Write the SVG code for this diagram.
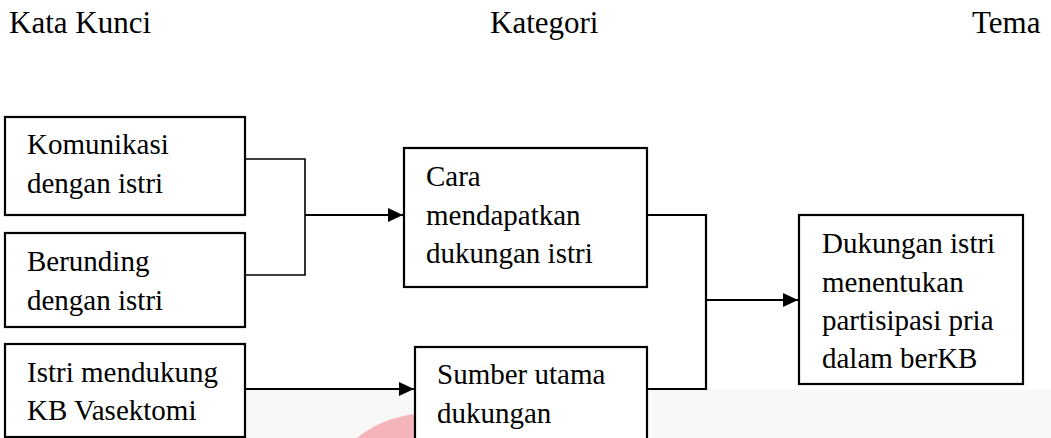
<svg xmlns="http://www.w3.org/2000/svg" width="1051" height="438" viewBox="0 0 1051 438">
<style>
.t{font-family:"Liberation Serif","Times New Roman",serif;font-size:29px;fill:#000}
.h{font-family:"Liberation Serif","Times New Roman",serif;font-size:31px;fill:#000}
.box{fill:#fff;stroke:#000;stroke-width:2.2}
.ln{fill:none;stroke:#000;stroke-width:1.6}
.ar{fill:none;stroke:#000;stroke-width:2.2}
</style>
<defs>
<marker id="ah" markerWidth="16" markerHeight="14" refX="15" refY="7" orient="auto" markerUnits="userSpaceOnUse">
<path d="M0,0 L15,7 L0,14 Z" fill="#000"/>
</marker>
</defs>
<rect width="1051" height="438" fill="#fff"/>
<rect x="245" y="389" width="806" height="49" fill="#f8f8f8"/>
<path d="M357,438 Q380,419 414,414 L414,438 Z" fill="#f4b4b9"/>
<g id="titles">
<text class="h" x="9" y="33">Kata Kunci</text>
<text class="h" x="490" y="33">Kategori</text>
<text class="h" x="972" y="33">Tema</text>
</g>
<g id="connectors">
<polyline class="ln" points="245,159 305,159 305,275 245,275"/>
<line class="ar" x1="305" y1="215" x2="403" y2="215" marker-end="url(#ah)"/>
<line class="ar" x1="245" y1="389" x2="414" y2="389" marker-end="url(#ah)"/>
<polyline class="ar" points="647,215 706,215 706,389 647,389"/>
<line class="ar" x1="706" y1="300" x2="798" y2="300" marker-end="url(#ah)"/>
</g>
<g id="n1">
<rect class="box" x="5" y="117" width="240" height="98"/>
<text class="t" x="27" y="154">Komunikasi</text>
<text class="t" x="27" y="193">dengan istri</text>
</g>
<g id="n2">
<rect class="box" x="5" y="233" width="240" height="94"/>
<text class="t" x="27" y="271">Berunding</text>
<text class="t" x="27" y="310">dengan istri</text>
</g>
<g id="n3">
<rect class="box" x="5" y="344" width="240" height="93"/>
<text class="t" x="27" y="382">Istri mendukung</text>
<text class="t" x="27" y="420">KB Vasektomi</text>
</g>
<g id="n4">
<rect class="box" x="404" y="148" width="243" height="139"/>
<text class="t" x="426" y="186">Cara</text>
<text class="t" x="426" y="225">mendapatkan</text>
<text class="t" x="426" y="263">dukungan istri</text>
</g>
<g id="n5">
<rect class="box" x="415" y="347" width="232" height="100"/>
<text class="t" x="437" y="384">Sumber utama</text>
<text class="t" x="437" y="423">dukungan</text>
</g>
<g id="n6">
<rect class="box" x="799" y="215" width="224" height="169"/>
<text class="t" x="822" y="253">Dukungan istri</text>
<text class="t" x="822" y="292">menentukan</text>
<text class="t" x="822" y="330">partisipasi pria</text>
<text class="t" x="822" y="368">dalam berKB</text>
</g>
</svg>
